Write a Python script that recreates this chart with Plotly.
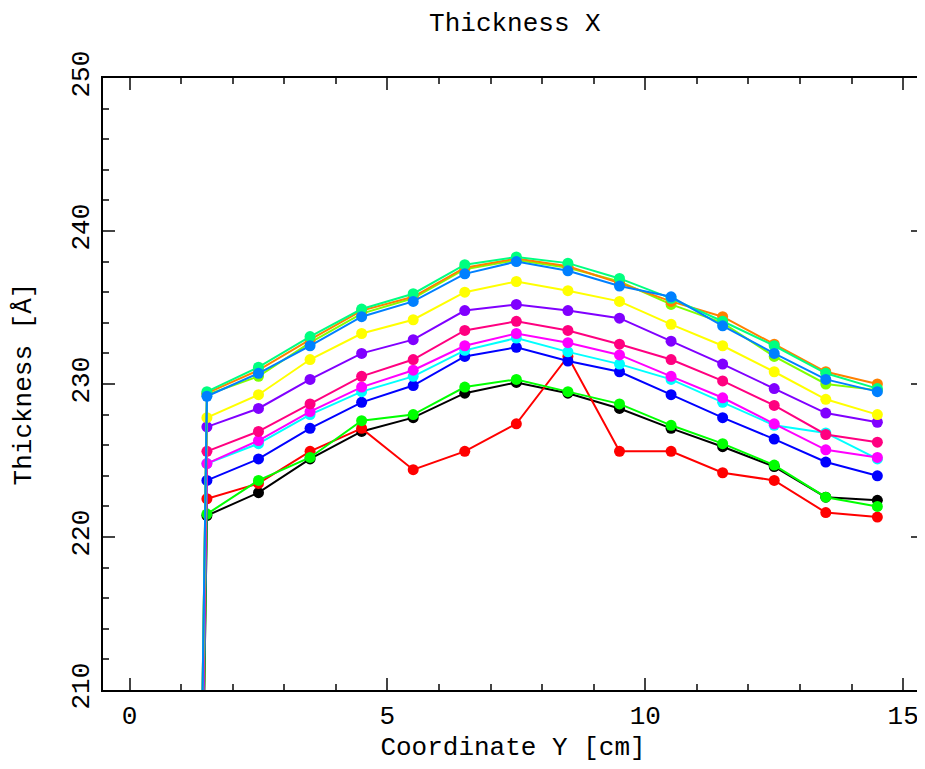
import plotly.graph_objects as go

# x positions (cm); the first point of every series lies far below the axis
x_start = 0.5
y_start = 0.0
x_vals = [1.5, 2.5, 3.5, 4.5, 5.5, 6.5, 7.5, 8.5, 9.5, 10.5, 11.5, 12.5, 13.5, 14.5]

black   = [221.4, 222.9, 225.1, 226.9, 227.8, 229.4, 230.1, 229.4, 228.4, 227.1, 225.9, 224.6, 222.6, 222.4]
red     = [222.5, 223.5, 225.6, 227.1, 224.4, 225.6, 227.4, 231.8, 225.6, 225.6, 224.2, 223.7, 221.6, 221.3]
green   = [221.5, 223.7, 225.2, 227.6, 228.0, 229.8, 230.3, 229.5, 228.7, 227.3, 226.1, 224.7, 222.6, 222.0]
blue    = [223.7, 225.1, 227.1, 228.8, 229.9, 231.8, 232.4, 231.5, 230.8, 229.3, 227.8, 226.4, 224.9, 224.0]
cyan    = [224.8, 226.1, 228.0, 229.5, 230.5, 232.2, 233.0, 232.1, 231.3, 230.3, 228.8, 227.3, 226.8, 225.1]
magenta = [224.8, 226.3, 228.2, 229.8, 230.9, 232.5, 233.3, 232.7, 231.9, 230.5, 229.1, 227.4, 225.7, 225.2]
pink    = [225.6, 226.9, 228.7, 230.5, 231.6, 233.5, 234.1, 233.5, 232.6, 231.6, 230.2, 228.6, 226.7, 226.2]
violet  = [227.2, 228.4, 230.3, 232.0, 232.9, 234.8, 235.2, 234.8, 234.3, 232.8, 231.3, 229.7, 228.1, 227.5]
yellow  = [227.8, 229.3, 231.6, 233.3, 234.2, 236.0, 236.7, 236.1, 235.4, 233.9, 232.5, 230.8, 229.0, 228.0]
lime    = [229.3, 230.5, 232.7, 234.6, 235.6, 237.5, 238.1, 237.6, 236.7, 235.2, 234.0, 231.8, 230.0, 229.6]
orange  = [229.4, 230.9, 232.9, 234.8, 235.7, 237.6, 238.2, 237.7, 236.6, 235.4, 234.4, 232.6, 230.8, 230.0]
teal    = [229.5, 231.1, 233.1, 234.9, 235.9, 237.8, 238.3, 237.9, 236.9, 235.6, 234.1, 232.5, 230.7, 229.7]
azure   = [229.2, 230.7, 232.5, 234.4, 235.4, 237.2, 238.0, 237.4, 236.4, 235.7, 233.8, 232.0, 230.3, 229.5]

series = [
    (black, "#000000"), (red, "#ff0000"), (green, "#00ff00"), (blue, "#0000ff"),
    (cyan, "#00ffff"), (magenta, "#ff00ff"), (pink, "#ff0080"), (violet, "#8000ff"),
    (yellow, "#ffff00"), (lime, "#80ff00"), (orange, "#ff8000"), (teal, "#00ff80"),
    (azure, "#0080ff"),
]

x_ticks = [0, 5, 10, 15]
y_ticks = [210, 220, 230, 240, 250]

fig = go.Figure()
for vals, col in series:
    fig.add_trace(go.Scatter(
        x=[x_start] + x_vals, y=[y_start] + vals, mode="lines+markers",
        line=dict(color=col, width=2), marker=dict(color=col, size=11),
        showlegend=False, cliponaxis=True,
    ))

title_font = dict(family="Liberation Mono", size=26, color="black")
tick_font = dict(family="Liberation Mono", size=26, color="black")

fig.update_layout(
    width=925, height=769,
    margin=dict(l=95, r=8, t=70, b=87),
    plot_bgcolor="white", paper_bgcolor="white",
    title=dict(text="Thickness X", x=0.548, xanchor="center", y=0.982, yanchor="middle",
               font=title_font),
)
fig.update_xaxes(
    range=[-0.515, 15.385], tickvals=x_ticks, ticks="inside", ticklen=12, tickwidth=2,
    minor=dict(ticks="inside", dtick=1, ticklen=6, tickwidth=1.5, tick0=0),
    showline=True, linewidth=2, linecolor="black", mirror="ticks", showgrid=False,
    zeroline=False, tickfont=tick_font, ticklabelstandoff=1,
    title=dict(text="Coordinate Y [cm]", font=title_font, standoff=6),
)
fig.update_yaxes(
    range=[210, 250], tickvals=y_ticks, ticks="inside", ticklen=12, tickwidth=2,
    minor=dict(ticks="inside", dtick=2, ticklen=6, tickwidth=1.5, tick0=210),
    showline=True, linewidth=2, linecolor="black", mirror="ticks", showgrid=False,
    zeroline=False, tickfont=tick_font, tickangle=-90, ticklabelstandoff=2,
    title=dict(text="Thickness [Å]", font=title_font, standoff=27),
)

fig.write_html("out.html")
